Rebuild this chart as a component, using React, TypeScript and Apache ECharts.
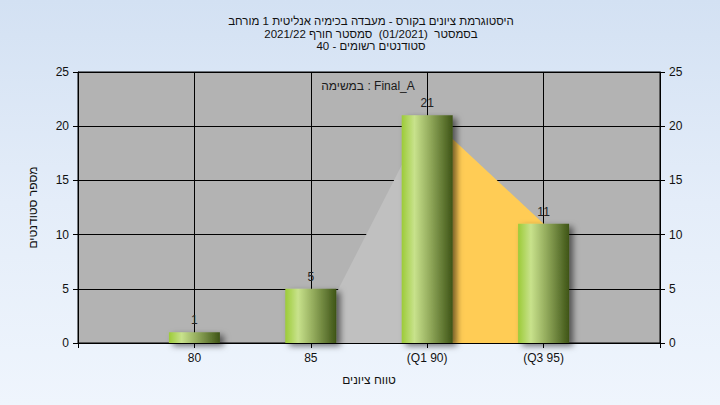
import React, { useEffect, useRef } from "react";
import * as echarts from "echarts";

const titleLines = [
  "היסטוגרמת ציונים בקורס - מעבדה בכימיה אנליטית 1 מורחב",
  "בסמסטר  (01/2021)  סמסטר חורף 2021/22",
  "סטודנטים רשומים - 40",
];
const legendText = "במשימה : Final_A";
const xAxisName = "טווח ציונים";
const yAxisName = "מספר סטודנטים";

const gradeBins = [80, 85, 90, 95];
const studentCounts = [1, 5, 21, 11];
const xTickLabels: Record<number, string> = { 80: "80", 85: "85", 90: "(Q1 90)", 95: "(Q3 95)" };

const lowerArea = [
  [85, 0],
  [90, 21],
];
const quartileArea = [
  [90, 21],
  [95, 11],
];

const FONT = "Liberation Sans, Arial, sans-serif";

export default function App() {
  const ref = useRef<HTMLDivElement>(null);
  useEffect(() => {
    if (!ref.current) return;
    const chart = echarts.init(ref.current, undefined, { renderer: "svg" });
    const barGradient = new echarts.graphic.LinearGradient(0, 0, 1, 0, [
      { offset: 0, color: "#9ccb38" },
      { offset: 0.25, color: "#c8e28c" },
      { offset: 0.55, color: "#93ab5c" },
      { offset: 1, color: "#3e5416" },
    ]);
    chart.setOption({
      animation: false,
      textStyle: { fontFamily: FONT },
      title: {
        text: titleLines.join("\n"),
        left: 366,
        top: 10,
        textAlign: "center",
        textStyle: { fontSize: 11.5, fontWeight: "normal", color: "#111", lineHeight: 12.5, fontFamily: FONT },
      },
      graphic: [
        {
          type: "text",
          x: 368,
          y: 86,
          style: {
            text: legendText,
            fontSize: 12,
            fill: "#1a1a1a",
            fontFamily: FONT,
            align: "center",
            verticalAlign: "middle",
          },
          z: 100,
        },
      ],
      grid: {
        left: 78,
        right: 60,
        top: 72,
        bottom: 62,
        containLabel: false,
        show: true,
        backgroundColor: "#b3b3b3",
        borderColor: "#000",
        borderWidth: 1,
      },
      xAxis: {
        type: "value",
        min: 75,
        max: 100,
        interval: 5,
        name: xAxisName,
        nameLocation: "middle",
        nameGap: 31,
        nameTextStyle: { fontSize: 12, color: "#111", fontFamily: FONT },
        axisLine: { show: true, lineStyle: { color: "#000", width: 1 } },
        axisTick: { show: true, length: 5, lineStyle: { color: "#000" } },
        axisLabel: {
          fontSize: 12,
          color: "#111",
          margin: 9,
          formatter: (v: number) => xTickLabels[v] ?? "",
        },
        splitLine: { show: true, lineStyle: { color: "#000", width: 1 } },
      },
      yAxis: [
        {
          type: "value",
          min: 0,
          max: 25,
          interval: 5,
          position: "left",
          name: yAxisName,
          nameLocation: "middle",
          nameGap: 39,
          nameTextStyle: { fontSize: 12, color: "#111", fontFamily: FONT },
          axisLine: { show: true, lineStyle: { color: "#000" } },
          axisTick: { show: true, length: 5, lineStyle: { color: "#000" } },
          axisLabel: { fontSize: 12, color: "#111", margin: 9 },
          splitLine: { show: true, lineStyle: { color: "#000", width: 1 } },
        },
        {
          type: "value",
          min: 0,
          max: 25,
          interval: 5,
          position: "right",
          axisLine: { show: true, lineStyle: { color: "#000" } },
          axisTick: { show: true, length: 5, lineStyle: { color: "#000" } },
          axisLabel: { fontSize: 12, color: "#111", margin: 9 },
          splitLine: { show: false },
        },
      ],
      series: [
        {
          type: "line",
          data: lowerArea,
          symbol: "none",
          lineStyle: { width: 0 },
          areaStyle: { color: "#c0c0c0", opacity: 1 },
          z: 1,
        },
        {
          type: "line",
          data: quartileArea,
          symbol: "none",
          lineStyle: { width: 0 },
          areaStyle: { color: "#ffcc55", opacity: 1 },
          z: 1,
        },
        {
          type: "bar",
          data: gradeBins.map((g, i) => [g, studentCounts[i]]),
          barWidth: 51,
          itemStyle: {
            color: barGradient,
            shadowColor: "rgba(0,0,0,0.55)",
            shadowBlur: 6,
            shadowOffsetX: 4,
            shadowOffsetY: 3,
          },
          label: {
            show: true,
            position: "top",
            distance: 6,
            fontSize: 12,
            color: "#222",
            fontFamily: FONT,
          },
          z: 3,
        },
      ],
    });
    return () => chart.dispose();
  }, []);
  return (
    <div
      ref={ref}
      style={{
        position: "absolute",
        left: 0,
        top: 0,
        width: 720,
        height: 405,
        background: "linear-gradient(to bottom, #d3e1f3 0%, #e4edf9 50%, #eff5fd 100%)",
      }}
    />
  );
}
